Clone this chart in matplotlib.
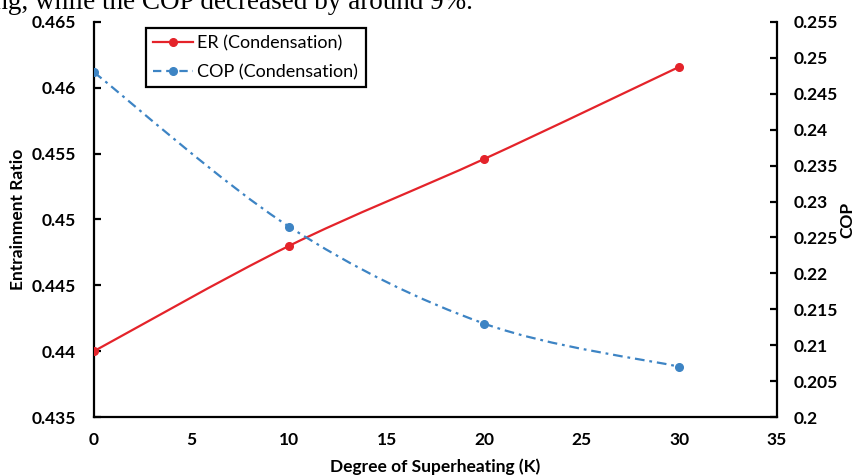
import numpy as np
import matplotlib
matplotlib.use("Agg")
import matplotlib.pyplot as plt
from matplotlib.path import Path
from matplotlib.patches import PathPatch
from matplotlib.lines import Line2D

superheat = [0, 10, 20, 30]
er_values = [0.4400, 0.4480, 0.4546, 0.4616]
cop_values = [0.2480, 0.2265, 0.2130, 0.2070]

RED = '#e4232a'
BLUE = '#3d84c4'
FONT = 'Lato'
TICK_SIZE = 12.5
LABEL_SIZE = 12.5

plt.rcParams['font.family'] = [FONT, 'DejaVu Sans']
plt.rcParams['lines.scale_dashes'] = False


def smooth_path(xs, ys):
    # excel style smoothed line: cubic bezier between the data points
    pts = np.column_stack([xs, ys]).astype(float)
    n = len(pts)
    verts = [pts[0]]
    codes = [Path.MOVETO]
    for i in range(n - 1):
        p0 = pts[max(i - 1, 0)]
        p1 = pts[i]
        p2 = pts[i + 1]
        p3 = pts[min(i + 2, n - 1)]
        verts += [p1 + (p2 - p0) / 6, p2 - (p3 - p1) / 6, p2]
        codes += [Path.CURVE4] * 3
    return Path(verts, codes)


fig = plt.figure(figsize=(8.56, 4.75), dpi=100)
ax = fig.add_axes([0.1098, 0.1221, 0.7979, 0.8316])
ax2 = ax.twinx()

cop_dash = (0, (7, 3.5, 2, 3.5))
ax.add_patch(PathPatch(smooth_path(superheat, er_values), fill=False,
                       edgecolor=RED, lw=1.6, capstyle='round'))
ax.plot(superheat, er_values, 'o', color=RED, ms=5.5, zorder=3)
ax2.add_patch(PathPatch(smooth_path(superheat, cop_values), fill=False,
                        edgecolor=BLUE, lw=1.6, linestyle=cop_dash))
ax2.plot(superheat, cop_values, 'o', color=BLUE, ms=5.5, zorder=3)

ax.set_xlim(0, 35)
ax.set_ylim(0.435, 0.465)
ax2.set_ylim(0.2, 0.255)
ax.set_xticks(np.arange(0, 36, 5))
ax.set_yticks(np.arange(0.435, 0.4651, 0.005))
ax2.set_yticks(np.arange(0.2, 0.2551, 0.005))
ax.yaxis.set_major_formatter(plt.FuncFormatter(lambda v, p: f'{v:.3f}'.rstrip('0')))
ax2.yaxis.set_major_formatter(plt.FuncFormatter(lambda v, p: f'{v:.3f}'.rstrip('0').rstrip('.')))

for a in (ax, ax2):
    a.spines['top'].set_visible(False)
    for s in ('left', 'right', 'bottom'):
        a.spines[s].set_linewidth(1.6)
ax.spines['right'].set_visible(False)
ax2.spines['left'].set_visible(False)
ax2.spines['bottom'].set_visible(False)

ax.tick_params(axis='x', length=0, pad=11, labelsize=TICK_SIZE)
ax.tick_params(axis='y', direction='in', length=5, width=1.6, pad=13, labelsize=TICK_SIZE)
ax2.tick_params(axis='y', direction='in', length=5, width=1.6, pad=12, labelsize=TICK_SIZE)
for lbl in ax.get_xticklabels() + ax.get_yticklabels() + ax2.get_yticklabels():
    lbl.set_fontweight('bold')

ax.set_xlabel('Degree of Superheating (K)', fontsize=LABEL_SIZE, fontweight='bold')
ax.xaxis.set_label_coords(0.5, -0.106)
ax.set_ylabel('Entrainment Ratio', fontsize=LABEL_SIZE, fontweight='bold')
ax.yaxis.set_label_coords(-0.1, 0.5)
ax2.set_ylabel('COP', fontsize=LABEL_SIZE, fontweight='bold')
ax2.yaxis.set_label_coords(1.092, 0.5)

handles = [
    Line2D([], [], color=RED, lw=1.6, marker='o', ms=5.5),
    Line2D([], [], color=BLUE, lw=1.6, marker='o', ms=5.5, linestyle=(0, (6, 3.5))),
]
leg = ax2.legend(handles, ['ER (Condensation)', 'COP (Condensation)'],
                 loc='upper left', bbox_to_anchor=(146 / 856, 1 - 28 / 475),
                 bbox_transform=fig.transFigure, fontsize=13, fancybox=False,
                 edgecolor='black', framealpha=1, handlelength=2.2,
                 handletextpad=0.25, borderpad=0.4, labelspacing=0.7,
                 borderaxespad=0)
leg.get_frame().set_linewidth(1.6)

fig.text(473 / 856, 1 - 9 / 475, 'superheating, while the COP decreased by around 9%.',
         ha='right', va='baseline', fontsize=19.5, family='Liberation Serif')

fig.savefig('out.png', dpi=100)
